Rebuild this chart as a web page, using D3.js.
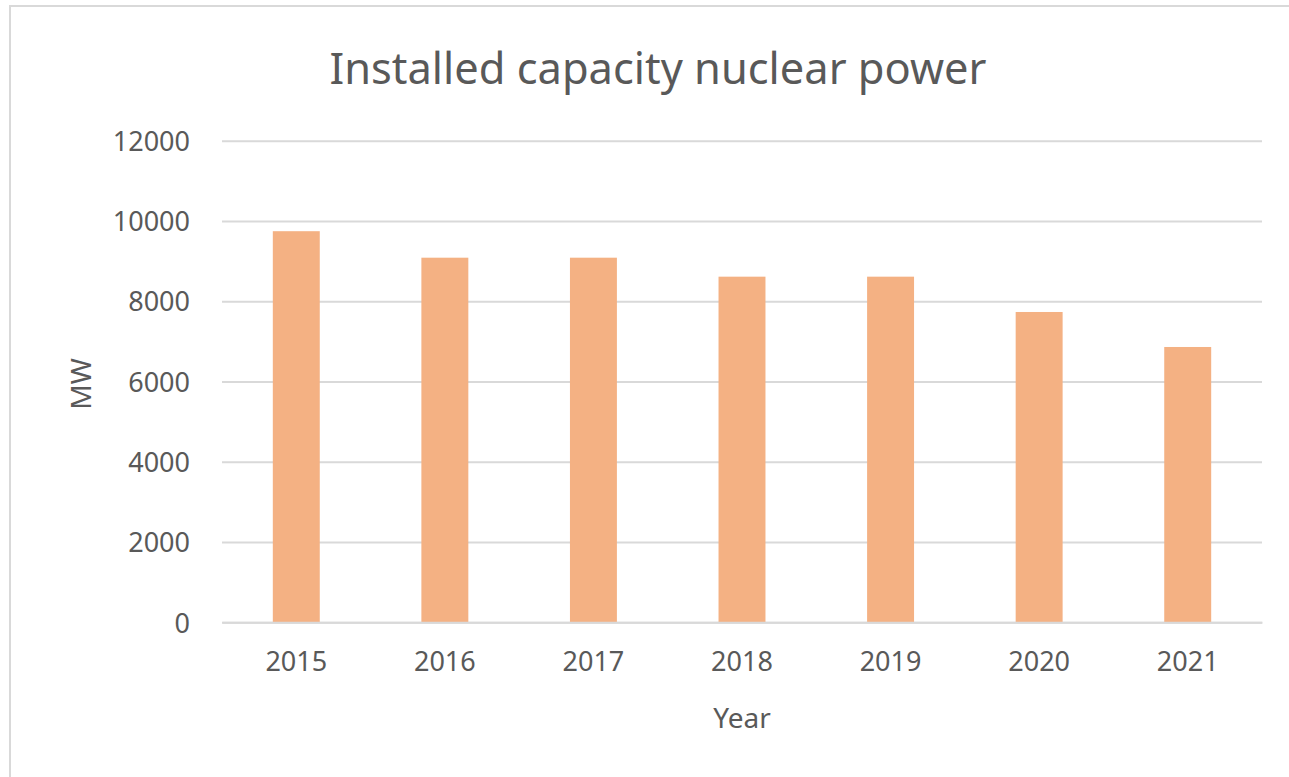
<!DOCTYPE html>
<html>
<head>
<meta charset="utf-8">
<script src="https://cdn.jsdelivr.net/npm/d3@7"></script>
<style>
  html, body { margin: 0; padding: 0; background: #fff; }
  svg { display: block; }
</style>
</head>
<body>
<svg id="chart" width="1289" height="777"></svg>
<script>
const years = ["2015", "2016", "2017", "2018", "2019", "2020", "2021"];
const capacityMW = [9745, 9085, 9085, 8612, 8612, 7732, 6860];
const yTicks = [0, 2000, 4000, 6000, 8000, 10000, 12000];
const titleText = "Installed capacity nuclear power";
const xTitle = "Year";
const yTitle = "MW";

const svg = d3.select("#chart");
const W = 1289, H = 777;
const margin = { left: 222, right: 27, top: 140.7, bottom: 154.7 };
const font = "'Noto Sans', 'Open Sans', sans-serif";
const textColor = "#595959";

svg.append("rect").attr("width", W).attr("height", H).attr("fill", "#fff");
// chart area border
svg.append("rect")
  .attr("x", 10).attr("y", 6).attr("width", 1400).attr("height", 900)
  .attr("fill", "none").attr("stroke", "#d9d9d9").attr("stroke-width", 2);

const x = d3.scaleBand()
  .domain(years)
  .range([margin.left, W - margin.right])
  .paddingInner(0.684)
  .paddingOuter(0.342);

const y = d3.scaleLinear()
  .domain([0, 12000])
  .range([H - margin.bottom, margin.top]);

// gridlines
const yAxis = d3.axisLeft(y).tickValues(yTicks).tickSize(-(W - margin.right - margin.left)).tickPadding(32).tickFormat(d3.format("d"));
const gy = svg.append("g").attr("transform", `translate(${margin.left},0)`).call(yAxis);
gy.select(".domain").remove();
gy.selectAll(".tick line").attr("stroke", "#d9d9d9").attr("stroke-width", 2);
gy.selectAll(".tick text")
  .attr("fill", textColor).attr("font-family", font).attr("font-size", 27)
  .attr("dy", "0.36em");

// bars
svg.append("g").selectAll("rect")
  .data(years)
  .join("rect")
  .attr("x", d => x(d))
  .attr("width", x.bandwidth())
  .attr("y", (d, i) => y(capacityMW[i]))
  .attr("height", (d, i) => y(0) - y(capacityMW[i]))
  .attr("fill", "#f4b183");

// x axis labels
const xAxis = d3.axisBottom(x).tickSize(0).tickPadding(30);
const gx = svg.append("g").attr("transform", `translate(0,${y(0)})`).call(xAxis);
gx.select(".domain").attr("stroke", "#d9d9d9").attr("stroke-width", 2);
gx.selectAll(".tick text")
  .attr("fill", textColor).attr("font-family", font).attr("font-size", 27);

// titles
svg.append("text")
  .attr("x", 658).attr("y", 84)
  .attr("text-anchor", "middle")
  .attr("font-family", font).attr("font-size", 44)
  .attr("fill", textColor)
  .attr("textLength", 657).attr("lengthAdjust", "spacingAndGlyphs")
  .text(titleText);

svg.append("text")
  .attr("x", (margin.left + W - margin.right) / 2).attr("y", 728)
  .attr("text-anchor", "middle")
  .attr("font-family", font).attr("font-size", 28)
  .attr("fill", textColor)
  .text(xTitle);

svg.append("text")
  .attr("transform", `translate(91,384) rotate(-90)`)
  .attr("text-anchor", "middle")
  .attr("font-family", font).attr("font-size", 28)
  .attr("fill", textColor)
  .text(yTitle);
</script>
</body>
</html>
